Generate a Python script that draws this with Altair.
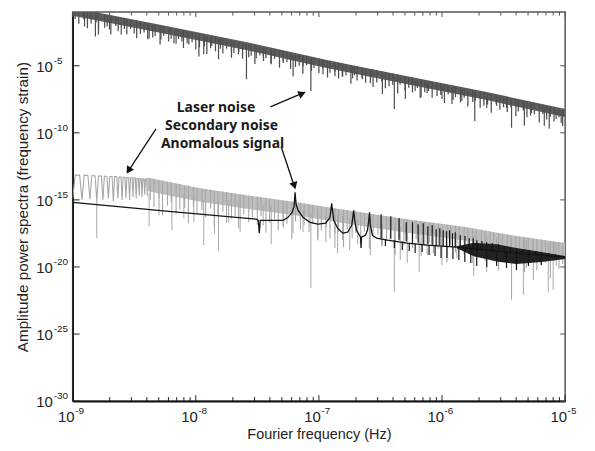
import altair as alt
import pandas as pd

W, H = 495, 391
NANO = 1e-9  # frequencies in the *_f lists are in units of 1e-9 Hz; *_lf lists are log10(Hz)
# amplitudes are written as log10 exponents

# ---------------- Laser noise (dark grey) ----------------
laser_band_f = [1.0, 6.05, 26.7, 118, 522, 2307, 10000]
laser_band_top = [-0.67, -2.07, -3.26, -4.59, -5.78, -6.96, -8.22]
laser_band_bot = [-1.27, -2.67, -3.86, -5.19, -6.38, -7.56, -8.82]

laser_dip_f = [1.25, 1.53, 1.62, 1.99, 2.48, 3.16, 4.18, 5.22, 6.65, 7.71, 8.79, 10.6, 11.6, 13.2,
               15.3, 19.5, 22.2, 25.8, 31.0, 35.3, 41.0, 51.3, 61.7, 74.3, 86.1, 108, 135, 156,
               188, 226, 262, 328, 410, 504, 605, 665, 757, 1000, 1205, 1449, 1845, 2307, 2780,
               3342, 3673, 4667, 5321, 6776, 7430, 8453, 9290]
laser_dip_lo = [-2.07, -2.81, -2.67, -2.30, -2.67, -2.59, -2.96, -3.04, -3.33, -3.19, -3.41, -4.30,
                -4.15, -3.70, -4.52, -3.93, -4.15, -6.00, -4.44, -4.30, -4.89, -4.67, -5.78, -5.04,
                -6.89, -5.63, -5.78, -5.78, -5.93, -6.00, -6.30, -7.11, -8.22, -7.48, -6.89, -7.41,
                -7.04, -7.48, -7.85, -7.63, -9.11, -8.15, -8.00, -8.15, -9.63, -9.48, -8.52, -9.48,
                -9.70, -8.96, -9.26]
laser_dip_hi = [-1.2, -1.5, -1.5, -1.5, -1.8, -1.9, -2.0, -2.3, -2.4, -2.5, -2.6, -2.8, -2.8, -2.9,
                -3.0, -3.2, -3.3, -3.4, -3.6, -3.7, -3.9, -4.0, -4.2, -4.3, -4.5, -4.7, -4.9, -5.0,
                -5.1, -5.3, -5.4, -5.6, -5.8, -6.0, -6.1, -6.2, -6.3, -6.5, -6.7, -6.8, -7.0, -7.2,
                -7.3, -7.5, -7.6, -7.8, -7.9, -8.1, -8.2, -8.3, -8.4]

# dense comb of shallow dips along the laser band
laser_comb_lf = [-8.98, -8.95, -8.91, -8.88, -8.85, -8.81, -8.79, -8.74, -8.72, -8.69, -8.65, -8.63,
                 -8.58, -8.56, -8.53, -8.48, -8.45, -8.42, -8.39, -8.35, -8.33, -8.29, -8.26, -8.22,
                 -8.20, -8.16, -8.14, -8.10, -8.07, -8.03, -8.00, -7.97, -7.93, -7.91, -7.87, -7.84,
                 -7.80, -7.78, -7.75, -7.71, -7.69, -7.65, -7.62, -7.57, -7.55, -7.52, -7.48, -7.45,
                 -7.43, -7.39, -7.36, -7.32, -7.29, -7.26, -7.23, -7.19, -7.16, -7.13, -7.10, -7.06,
                 -7.04, -7.00, -6.97, -6.93, -6.91, -6.87, -6.84, -6.81, -6.78, -6.74, -6.71, -6.69,
                 -6.65, -6.62, -6.58, -6.56, -6.53, -6.49, -6.46, -6.43, -6.40, -6.36, -6.34, -6.30,
                 -6.27, -6.24, -6.20, -6.17, -6.14, -6.11, -6.08, -6.04, -6.01, -5.98, -5.95, -5.91,
                 -5.89, -5.85, -5.82, -5.79, -5.75, -5.73, -5.69, -5.66, -5.63, -5.60, -5.56, -5.53,
                 -5.50, -5.47, -5.44, -5.40, -5.38, -5.34, -5.31, -5.28, -5.25, -5.21, -5.18, -5.15,
                 -5.12, -5.09, -5.05, -5.02]
laser_comb_top = [-0.71, -0.77, -0.84, -0.90, -0.95, -1.03, -1.07, -1.16, -1.20, -1.26, -1.33, -1.37,
                  -1.46, -1.50, -1.56, -1.65, -1.71, -1.77, -1.82, -1.90, -1.94, -2.01, -2.07, -2.14,
                  -2.18, -2.26, -2.30, -2.37, -2.43, -2.50, -2.56, -2.62, -2.69, -2.73, -2.81, -2.86,
                  -2.94, -2.98, -3.03, -3.11, -3.15, -3.22, -3.28, -3.37, -3.41, -3.47, -3.54, -3.60,
                  -3.64, -3.71, -3.77, -3.85, -3.90, -3.96, -4.02, -4.09, -4.15, -4.20, -4.26, -4.34,
                  -4.37, -4.45, -4.51, -4.58, -4.62, -4.70, -4.75, -4.81, -4.87, -4.94, -5.00, -5.04,
                  -5.11, -5.17, -5.24, -5.28, -5.34, -5.41, -5.47, -5.53, -5.58, -5.66, -5.70, -5.77,
                  -5.83, -5.89, -5.96, -6.02, -6.08, -6.13, -6.19, -6.26, -6.32, -6.38, -6.44, -6.51,
                  -6.55, -6.62, -6.68, -6.74, -6.81, -6.85, -6.93, -6.98, -7.04, -7.10, -7.17, -7.23,
                  -7.29, -7.34, -7.40, -7.47, -7.51, -7.59, -7.64, -7.70, -7.76, -7.83, -7.89, -7.95,
                  -8.00, -8.06, -8.14, -8.19]
laser_comb_bot = [-1.51, -1.87, -1.54, -2.20, -1.85, -1.78, -2.27, -2.16, -2.05, -2.66, -2.03, -2.42,
                  -2.26, -2.65, -2.26, -2.95, -2.61, -2.52, -3.02, -2.90, -2.79, -3.41, -2.77, -3.19,
                  -2.98, -3.36, -3.00, -3.67, -3.33, -3.25, -3.76, -3.62, -3.54, -4.13, -3.51, -3.91,
                  -3.74, -4.08, -3.73, -4.41, -4.05, -3.97, -4.48, -4.37, -4.26, -4.87, -4.24, -4.65,
                  -4.44, -4.81, -4.47, -5.15, -4.80, -4.71, -5.22, -5.09, -5.00, -5.60, -4.96, -5.39,
                  -5.17, -5.55, -5.21, -5.88, -5.52, -5.45, -5.95, -5.81, -5.72, -6.34, -5.70, -6.09,
                  -5.91, -6.27, -5.94, -6.58, -6.24, -6.16, -6.67, -6.53, -6.43, -7.06, -6.40, -6.82,
                  -6.63, -6.99, -6.66, -7.32, -6.98, -6.88, -7.39, -7.26, -7.17, -7.78, -7.13, -7.56,
                  -7.35, -7.72, -7.38, -8.04, -7.71, -7.60, -8.13, -7.98, -7.89, -8.50, -7.87, -8.28,
                  -8.09, -8.44, -8.10, -8.77, -8.41, -8.34, -8.84, -8.70, -8.61, -9.23, -8.59, -9.00,
                  -8.80, -9.16, -8.84, -9.49]

# ---------------- Secondary noise (light grey) ----------------
sec_arch_f = [1.00, 1.05, 1.14, 1.19, 1.24, 1.33, 1.38, 1.43, 1.52, 1.57, 1.62, 1.71, 1.76, 1.81,
              1.90, 1.95, 2.00, 2.09, 2.14, 2.19, 2.28, 2.33, 2.38, 2.47, 2.52, 2.57, 2.66, 2.71,
              2.76, 2.85, 2.90, 2.95, 3.04, 3.09, 3.14, 3.23, 3.28, 3.33, 3.42, 3.47, 3.52, 3.61,
              3.66, 3.71, 3.80, 3.85, 3.90, 3.99, 4.04]
sec_arch_v = [-14.9, -13.15, -13.15, -15.0, -13.15, -13.18, -14.95, -13.2, -13.2, -15.05, -13.2,
              -13.22, -15.0, -13.22, -13.25, -14.9, -13.25, -13.25, -15.1, -13.25, -13.28, -14.9,
              -13.3, -13.3, -15.0, -13.3, -13.32, -14.85, -13.32, -13.35, -15.0, -13.35, -13.35,
              -14.8, -13.35, -13.38, -14.9, -13.4, -13.4, -14.7, -13.4, -13.42, -14.8, -13.42,
              -13.45, -14.6, -13.45, -13.45, -14.7]

sec_band_f = [4.03, 10.57, 26.7, 67.8, 171, 522, 1592, 4027, 10000]
sec_band_top = [-13.33, -14.11, -14.67, -15.19, -15.78, -16.44, -17.04, -17.70, -18.22]
sec_band_bot = [-14.33, -15.11, -15.67, -16.19, -16.78, -17.44, -18.04, -18.70, -19.22]

sec_dip_f = [1.57, 4.18, 5.03, 6.40, 8.0, 9.64, 11.6, 14.2, 15.3, 18.5, 22.2, 35.3, 41.0, 51.3,
             61.7, 74.3, 86.1, 98.2, 114, 135, 142, 156, 178, 207, 262, 328, 410, 458, 522, 653,
             757, 1000, 1321, 1811, 2307, 2780, 3673, 4581, 4842, 5521, 7295, 8000, 8453]
sec_dip_lo = [-17.85, -16.96, -16.15, -17.26, -16.37, -16.67, -18.37, -17.48, -18.81, -16.67,
              -17.11, -16.89, -18.30, -17.11, -17.48, -17.41, -21.56, -17.85, -18.15, -18.59,
              -18.96, -18.0, -18.74, -18.30, -19.11, -18.37, -21.85, -19.48, -19.70, -20.37,
              -19.11, -19.85, -19.33, -20.67, -20.37, -19.63, -22.44, -22.07, -20.07, -20.96,
              -21.85, -21.70, -19.93]
sec_dip_hi = [-15.0, -14.5, -14.4, -14.6, -14.6, -14.7, -15.0, -15.0, -15.1, -15.0, -15.1, -15.4,
              -15.5, -15.5, -15.6, -15.8, -16.0, -16.0, -16.1, -16.2, -16.2, -16.2, -16.4, -16.5,
              -16.6, -16.8, -16.9, -17.0, -17.0, -17.1, -17.2, -17.3, -17.5, -17.6, -17.7, -17.8,
              -17.9, -18.0, -18.0, -18.1, -18.2, -18.2, -18.2]

sec_comb_lf = [-8.37, -8.34, -8.30, -8.27, -8.23, -8.20, -8.16, -8.13, -8.09, -8.06, -8.02, -7.99,
               -7.95, -7.92, -7.88, -7.85, -7.82, -7.78, -7.75, -7.71, -7.68, -7.64, -7.61, -7.57,
               -7.54, -7.50, -7.47, -7.43, -7.40, -7.36, -7.33, -7.29, -7.26, -7.22, -7.19, -7.15,
               -7.12, -7.08, -7.05, -7.01, -6.98, -6.94, -6.91, -6.87, -6.84, -6.80, -6.77, -6.73,
               -6.70, -6.66, -6.63, -6.59, -6.56, -6.52, -6.49, -6.45, -6.42, -6.38, -6.35, -6.31,
               -6.28, -6.24, -6.21, -6.17, -6.14, -6.10, -6.07, -6.03, -6.00, -5.96, -5.93, -5.89,
               -5.86, -5.82, -5.79, -5.75, -5.72, -5.68, -5.65, -5.61, -5.58, -5.54, -5.51, -5.47,
               -5.44, -5.40, -5.37, -5.33, -5.30, -5.26, -5.23, -5.19, -5.16, -5.12, -5.09, -5.05,
               -5.02]
sec_comb_top = [-13.38, -13.43, -13.51, -13.56, -13.64, -13.69, -13.77, -13.82, -13.90, -13.95,
                -14.03, -14.08, -14.15, -14.19, -14.24, -14.29, -14.33, -14.38, -14.42, -14.48,
                -14.52, -14.58, -14.62, -14.67, -14.71, -14.76, -14.80, -14.85, -14.89, -14.95,
                -14.98, -15.04, -15.07, -15.13, -15.16, -15.22, -15.26, -15.32, -15.37, -15.42,
                -15.47, -15.53, -15.57, -15.63, -15.67, -15.73, -15.78, -15.83, -15.87, -15.93,
                -15.97, -16.02, -16.06, -16.12, -16.16, -16.21, -16.25, -16.31, -16.35, -16.40,
                -16.44, -16.49, -16.53, -16.58, -16.62, -16.67, -16.70, -16.75, -16.79, -16.84,
                -16.88, -16.93, -16.96, -17.01, -17.05, -17.12, -17.17, -17.23, -17.28, -17.35,
                -17.40, -17.46, -17.51, -17.58, -17.63, -17.69, -17.73, -17.79, -17.83, -17.88,
                -17.92, -17.97, -18.01, -18.06, -18.10, -18.16, -18.20]
sec_comb_bot = [-14.98, -15.53, -14.91, -16.16, -15.44, -15.19, -16.07, -15.72, -15.60, -16.75,
                -15.48, -16.08, -15.75, -16.29, -15.64, -16.89, -16.13, -15.88, -16.72, -16.38,
                -16.22, -17.38, -16.07, -16.67, -16.31, -16.86, -16.20, -17.45, -16.69, -16.45,
                -17.28, -16.94, -16.77, -17.93, -16.61, -17.22, -16.86, -17.42, -16.77, -18.02,
                -17.27, -17.03, -17.87, -17.53, -17.37, -18.53, -17.23, -17.83, -17.47, -18.03,
                -17.37, -18.62, -17.86, -17.62, -18.46, -18.11, -17.95, -19.11, -17.80, -18.40,
                -18.04, -18.59, -17.93, -19.18, -18.42, -18.17, -19.00, -18.65, -18.49, -19.64,
                -18.33, -18.93, -18.56, -19.11, -18.45, -19.72, -18.97, -18.73, -19.58, -19.25,
                -19.10, -20.26, -18.96, -19.58, -19.23, -19.79, -19.13, -20.39, -19.63, -19.38,
                -20.22, -19.87, -19.71, -20.86, -19.55, -20.16, -19.80]

# ---------------- Anomalous signal (black) ----------------
sig_f = [1.0, 6.05, 31.0, 32.2, 32.8, 33.4, 51.3, 56.2, 60.6, 62.9, 64.0, 65.3, 67.8, 74.3, 84.6,
         98.2, 114, 123, 125, 127, 130, 132, 142, 156, 171, 185, 188, 192, 195, 202, 218, 220,
         222, 239, 248, 253, 258, 262, 272, 294, 360, 522, 757, 1321, 2780, 4842, 10000]
sig_v = [-15.19, -15.85, -16.44, -16.52, -17.48, -16.52, -16.52, -16.30, -15.93, -15.48, -14.44,
         -15.33, -15.78, -16.30, -16.67, -16.81, -16.74, -16.30, -15.85, -15.26, -16.0, -16.52,
         -17.11, -17.48, -17.41, -16.89, -16.37, -15.78, -16.52, -17.26, -17.78, -18.59, -17.78,
         -17.63, -17.26, -16.67, -15.93, -16.89, -17.63, -17.85, -18.0, -18.22, -18.37, -18.52,
         -18.81, -19.04, -19.26]

sig_line_f = [320, 384, 448, 512, 576, 640, 704, 768, 832, 896, 960, 1024, 1088, 1152, 1216, 1280,
              1408, 1536, 1664, 1792, 1920, 2112, 2304, 2560, 2880, 3200, 3584, 4032, 4480, 5120,
              5760, 6400, 7360, 8320,
              347, 410, 476, 542, 605, 690, 785, 879, 982, 1097, 1227, 1371, 1532, 1713, 1915,
              2307, 2780, 3342, 4027, 5035, 6397]
sig_line_a = [-16.07, -16.22, -16.37, -16.67, -16.67, -16.81, -16.74, -16.96, -16.89, -17.19,
              -17.11, -17.26, -17.33, -17.26, -17.48, -17.41, -17.63, -17.70, -17.85, -17.85,
              -18.0, -18.07, -18.15, -18.22, -18.30, -18.44, -18.52, -18.59, -18.67, -18.74,
              -18.81, -18.89, -18.96, -19.04,
              -18.44, -18.59, -18.74, -18.81, -18.96, -18.89, -19.11, -19.19, -19.33, -19.33,
              -19.41, -19.48, -19.63, -19.70, -19.93, -20.0, -19.93, -20.07, -20.22, -19.93, -19.85]
sig_line_b = [-17.85, -17.9, -18.0, -18.1, -18.2, -18.2, -18.3, -18.3, -18.35, -18.4, -18.4, -18.45,
              -18.5, -18.5, -18.5, -18.55, -18.6, -18.6, -18.65, -18.7, -18.7, -18.8, -18.8,
              -18.85, -18.9, -19.0, -19.0, -19.05, -19.1, -19.1, -19.15, -19.2, -19.2, -19.25,
              -17.95, -18.0, -18.1, -18.2, -18.25, -18.3, -18.35, -18.4, -18.45, -18.5, -18.5,
              -18.55, -18.6, -18.6, -18.7, -18.8, -18.8, -18.9, -19.0, -19.0, -19.1]

sig_band_f = [1321, 1811, 2780, 4027, 6397, 10000]
sig_band_top = [-18.45, -18.20, -18.30, -18.59, -18.89, -19.19]
sig_band_bot = [-18.60, -19.20, -19.60, -19.78, -19.63, -19.41]

# ---------------- Axes ----------------
x_major = [1e-9, 1e-8, 1e-7, 1e-6, 1e-5]
x_major_exp = ["-9", "-8", "-7", "-6", "-5"]
x_minor = [m * d for d in [1e-9, 1e-8, 1e-7, 1e-6] for m in range(2, 10)]
y_major = [1e-30, 1e-25, 1e-20, 1e-15, 1e-10, 1e-5]
y_major_exp = ["-30", "-25", "-20", "-15", "-10", "-5"]

# ---------------- Annotations ----------------
note_text = ["Laser noise", "Secondary noise", "Anomalous signal"]
note_f = [14.6, 16.2, 16.5]
note_v = [-8.15, -9.48, -10.81]

arrow_f = [40.3, 4.75, 49.4]
arrow_v = [-8.07, -9.70, -11.04]
arrow_f2 = [77.1, 2.78, 64.0]
arrow_v2 = [-6.96, -12.96, -14.15]
head_f = [71.6, 2.88, 62.8]
head_v = [-7.11, -12.74, -13.85]
head_angle = [67, 213, 162]


def hz(vals):
    return [v * NANO for v in vals]


def hz_log(vals):
    return [10.0 ** v for v in vals]


def amp(vals):
    return [10.0 ** v for v in vals]


xs = alt.Scale(type="log", domain=[1e-9, 1e-5], nice=False)
ys = alt.Scale(type="log", domain=[1e-30, 1e-1], nice=False)
FONT = "Liberation Sans"
xa = alt.Axis(labels=False, ticks=False, grid=False, domainColor="#111", domainWidth=1.6,
              title="Fourier frequency (Hz)", titleFont=FONT, titleFontSize=14.5,
              titleFontWeight="normal", titleColor="#222", titlePadding=27)
ya = alt.Axis(labels=False, ticks=False, grid=False, domainColor="#111", domainWidth=1.6,
              title="Amplitude power spectra (frequency strain)", titleFont=FONT,
              titleFontSize=15.3, titleFontWeight="normal", titleColor="#222", titlePadding=42)


def X():
    return alt.X("f:Q", scale=xs, axis=xa)


def Y():
    return alt.Y("v:Q", scale=ys, axis=ya)


def band(fv, top, bot):
    return pd.DataFrame({"f": fv, "v": amp(top), "v2": amp(bot)})


DARK, LIGHT, BLACK = "#4e4e4e", "#a6a6a6", "#141414"

laser_area = alt.Chart(band(hz(laser_band_f), laser_band_top, laser_band_bot)).mark_area(
    color="#5c5c5c", clip=True).encode(x=X(), y=Y(), y2="v2:Q")
laser_comb = alt.Chart(band(hz_log(laser_comb_lf), laser_comb_top, laser_comb_bot)).mark_rule(
    color=DARK, strokeWidth=1.25, clip=True).encode(x=X(), y=Y(), y2="v2:Q")
laser_dips = alt.Chart(band(hz(laser_dip_f), laser_dip_hi, laser_dip_lo)).mark_rule(
    color=DARK, strokeWidth=1.2, clip=True).encode(x=X(), y=Y(), y2="v2:Q")

sec_area = alt.Chart(band(hz(sec_band_f), sec_band_top, sec_band_bot)).mark_area(
    color="#bdbdbd", clip=True).encode(x=X(), y=Y(), y2="v2:Q")
sec_comb = alt.Chart(band(hz_log(sec_comb_lf), sec_comb_top, sec_comb_bot)).mark_rule(
    color=LIGHT, strokeWidth=1.1, clip=True).encode(x=X(), y=Y(), y2="v2:Q")
sec_line = alt.Chart(pd.DataFrame({"f": hz(sec_arch_f), "v": amp(sec_arch_v)})).mark_line(
    color=LIGHT, strokeWidth=1.1, clip=True).encode(x=X(), y=Y())
sec_dips = alt.Chart(band(hz(sec_dip_f), sec_dip_hi, sec_dip_lo)).mark_rule(
    color=LIGHT, strokeWidth=1.0, clip=True).encode(x=X(), y=Y(), y2="v2:Q")

sig_line = alt.Chart(pd.DataFrame({"f": hz(sig_f), "v": amp(sig_v)})).mark_line(
    color=BLACK, strokeWidth=1.3, clip=True).encode(x=X(), y=Y())
sig_rules = alt.Chart(band(hz(sig_line_f), sig_line_a, sig_line_b)).mark_rule(
    color=BLACK, strokeWidth=1.2, clip=True).encode(x=X(), y=Y(), y2="v2:Q")
sig_area = alt.Chart(band(hz(sig_band_f), sig_band_top, sig_band_bot)).mark_area(
    color="#222222", clip=True).encode(x=X(), y=Y(), y2="v2:Q")

# ticks (inward)
xmaj = pd.DataFrame({"f": x_major, "e": x_major_exp})
xmin = pd.DataFrame({"f": x_minor})
ymaj = pd.DataFrame({"v": y_major, "e": y_major_exp})
TICK = "#222"
t1 = alt.Chart(xmaj).mark_rule(color=TICK).encode(x=X(), y=alt.value(H), y2=alt.value(H - 6))
t2 = alt.Chart(xmin).mark_rule(color=TICK).encode(x=X(), y=alt.value(H), y2=alt.value(H - 4))
t3 = alt.Chart(xmaj).mark_rule(color="#555").encode(x=X(), y=alt.value(0), y2=alt.value(5))
t4 = alt.Chart(xmin).mark_rule(color="#555").encode(x=X(), y=alt.value(0), y2=alt.value(3.5))
t5 = alt.Chart(ymaj).mark_rule(color=TICK).encode(y=Y(), x=alt.value(0), x2=alt.value(7))
t6 = alt.Chart(ymaj).mark_rule(color="#555").encode(y=Y(), x=alt.value(W), x2=alt.value(W - 5))

# tick labels: "10" with raised exponent
xl1 = alt.Chart(xmaj).mark_text(align="right", baseline="middle", dx=2, font=FONT, fontSize=15,
                                color="#222").encode(x=X(), y=alt.value(H + 16.5), text=alt.value("10"))
xl2 = alt.Chart(xmaj).mark_text(align="left", baseline="middle", dx=2.5, font=FONT, fontSize=10,
                                color="#222").encode(x=X(), y=alt.value(H + 9.5), text="e:N")
yl1 = alt.Chart(ymaj).mark_text(align="right", baseline="middle", dy=1, font=FONT, fontSize=15,
                                color="#222").encode(y=Y(), x=alt.value(-20), text=alt.value("10"))
yl2 = alt.Chart(ymaj).mark_text(align="left", baseline="middle", dy=-5, font=FONT, fontSize=10,
                                color="#222").encode(y=Y(), x=alt.value(-19), text="e:N")

# annotations
notes = alt.Chart(pd.DataFrame({"f": hz(note_f), "v": amp(note_v), "t": note_text})).mark_text(
    font="Noto Sans", fontSize=14, fontWeight="bold", color="#1a1a1a", align="center",
    baseline="middle").encode(x=X(), y=Y(), text="t:N")
arrows = alt.Chart(pd.DataFrame({"f": hz(arrow_f), "v": amp(arrow_v), "f2": hz(arrow_f2),
                                 "v2": amp(arrow_v2)})).mark_rule(
    color="#111", strokeWidth=1.3).encode(x=X(), y=Y(), x2="f2:Q", y2="v2:Q")
heads = alt.Chart(pd.DataFrame({"f": hz(head_f), "v": amp(head_v), "a": head_angle})).mark_point(
    shape="triangle", filled=True, size=70, color="#111", opacity=1).encode(
    x=X(), y=Y(), angle=alt.Angle("a:Q", scale=None))

chart = alt.layer(
    laser_area, laser_comb, laser_dips, sec_area, sec_comb, sec_line, sec_dips,
    sig_area, sig_line, sig_rules,
    t1, t2, t3, t4, t5, t6, xl1, xl2, yl1, yl2, notes, arrows, heads
).properties(
    width=W, height=H,
    autosize=alt.AutoSizeParams(type="none"),
    padding={"left": 65, "top": 3, "right": 22, "bottom": 45},
    background="white",
).configure_view(stroke="#555", strokeWidth=1.5)

chart.save("out.html", embed_options={"renderer": "svg", "actions": False})
